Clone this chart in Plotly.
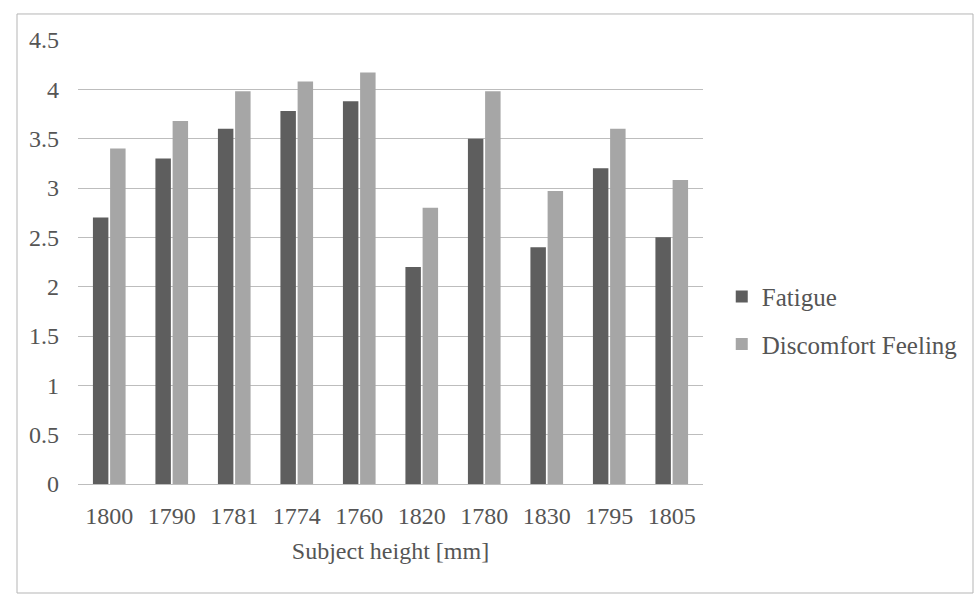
import plotly.graph_objects as go

heights = ["1800", "1790", "1781", "1774", "1760", "1820", "1780", "1830", "1795", "1805"]
fatigue = [2.7, 3.3, 3.6, 3.78, 3.88, 2.2, 3.5, 2.4, 3.2, 2.5]
discomfort = [3.4, 3.68, 3.98, 4.08, 4.17, 2.8, 3.98, 2.97, 3.6, 3.08]
y_ticks = [0, 0.5, 1, 1.5, 2, 2.5, 3, 3.5, 4, 4.5]
y_tick_text = ["0", "0.5", "1", "1.5", "2", "2.5", "3", "3.5", "4", "4.5"]

FONT = "Liberation Serif, serif"
TEXT = "#555555"
SIZE = 24

fig = go.Figure()
fig.add_trace(go.Bar(name="Fatigue", x=heights, y=fatigue, legendgroup="fatigue",
                     marker=dict(color="#5e5e5e", line=dict(width=0))))
fig.add_trace(go.Bar(name="Discomfort Feeling", x=heights, y=discomfort,
                     legendgroup="discomfort",
                     marker=dict(color="#a6a6a6", line=dict(width=0))))

fig.update_layout(
    width=975, height=601,
    margin=dict(l=78, r=272, t=40, b=117),
    paper_bgcolor="white", plot_bgcolor="white",
    barmode="group", bargap=0.45, bargroupgap=0.1,
    font=dict(family=FONT, color=TEXT, size=SIZE),
    legend=dict(x=1.03, y=0.369, xanchor="left", yanchor="middle",
                font=dict(family=FONT, size=25, color=TEXT),
                itemwidth=30, tracegroupgap=12, bgcolor="rgba(0,0,0,0)"),
    showlegend=True,
)
fig.update_xaxes(
    type="category", showgrid=False, showline=False, ticks="",
    tickfont=dict(family=FONT, size=SIZE, color=TEXT), ticklabelstandoff=15,
    title=dict(text="Subject height [mm]", font=dict(family=FONT, size=SIZE, color=TEXT),
               standoff=14),
)
fig.update_yaxes(
    range=[0, 4.5], tickvals=y_ticks, ticktext=y_tick_text,
    showgrid=True, gridcolor="#bdbdbd", gridwidth=1, zeroline=True,
    zerolinecolor="#bdbdbd", zerolinewidth=1, showline=False, ticks="",
    tickfont=dict(family=FONT, size=SIZE, color=TEXT), ticklabelstandoff=18,
)
# chart frame
fig.add_shape(type="rect", xref="paper", yref="paper",
              x0=-0.0976, x1=1.432, y0=-0.2455, y1=1.0586,
              line=dict(color="#b5b5b5", width=1), layer="below")

fig.write_html("out.html")
